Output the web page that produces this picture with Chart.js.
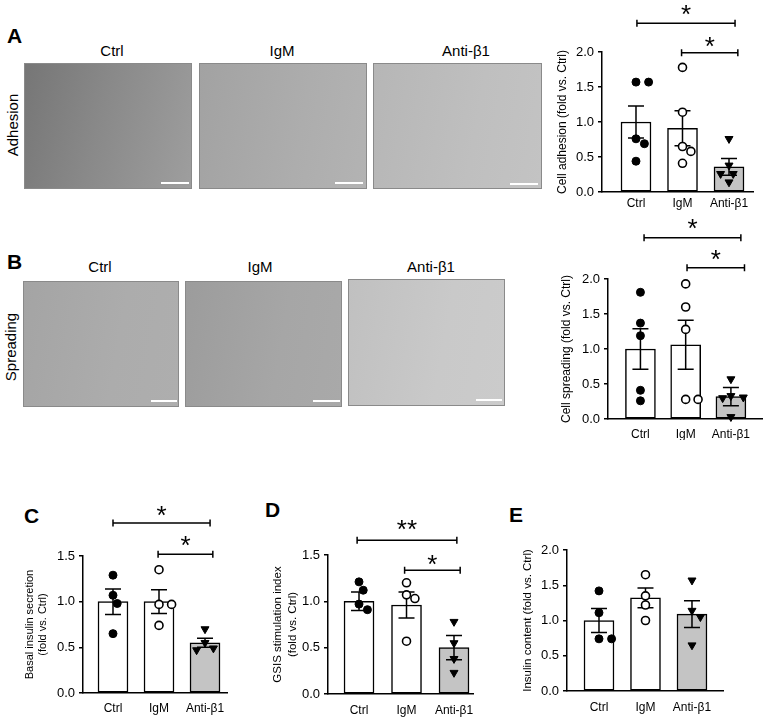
<!DOCTYPE html>
<html><head><meta charset="utf-8">
<script src="https://cdn.jsdelivr.net/npm/chart.js@4.4.1/dist/chart.umd.min.js"></script>
<style>
html,body{margin:0;padding:0;background:#fff;}
body{width:768px;height:719px;position:relative;overflow:hidden;font-family:"Liberation Sans",Arial,sans-serif;color:#000;}
.letter{position:absolute;font-weight:bold;font-size:21px;line-height:1;}
.ttl{position:absolute;font-size:15px;transform:translate(-50%,-50%);white-space:nowrap;line-height:1;}
.img{position:absolute;box-sizing:border-box;border:1px solid #8a8a8a;}
.sbar{position:absolute;height:2px;background:#fff;}
.rowlab{position:absolute;font-size:15px;transform:translate(-50%,-50%) rotate(-90deg);white-space:nowrap;line-height:1;}
canvas{position:absolute;}
</style>
</head>
<body>
<div class="letter" style="left:7px;top:25px;">A</div>
<div class="letter" style="left:7px;top:251px;">B</div>
<div class="letter" style="left:24px;top:505px;">C</div>
<div class="letter" style="left:265px;top:499px;">D</div>
<div class="letter" style="left:509px;top:504px;">E</div>

<div class="rowlab" style="left:12px;top:125px;">Adhesion</div>
<div class="rowlab" style="left:10px;top:347px;">Spreading</div>

<div class="ttl" style="left:112px;top:50px;">Ctrl</div>
<div class="ttl" style="left:282px;top:50px;">IgM</div>
<div class="ttl" style="left:466px;top:50px;">Anti-β1</div>
<div class="ttl" style="left:100px;top:266px;">Ctrl</div>
<div class="ttl" style="left:260px;top:266px;">IgM</div>
<div class="ttl" style="left:431px;top:266px;">Anti-β1</div>

<div class="img" style="left:24px;top:63px;width:168px;height:126px;background:linear-gradient(105deg,#767676 0%,#898989 45%,#9e9e9e 100%);"></div>
<div class="img" style="left:199px;top:63px;width:168px;height:126px;background:linear-gradient(100deg,#a2a2a2 0%,#adadad 60%,#b3b3b3 100%);"></div>
<div class="img" style="left:373px;top:63px;width:169px;height:126px;background:linear-gradient(100deg,#b6b6b6 0%,#bfbfbf 60%,#c3c3c3 100%);"></div>
<div class="img" style="left:23px;top:281px;width:156px;height:126px;background:linear-gradient(100deg,#a4a4a4 0%,#acacac 60%,#aeaeae 100%);"></div>
<div class="img" style="left:185px;top:281px;width:157px;height:126px;background:linear-gradient(100deg,#9c9c9c 0%,#a6a6a6 60%,#a9a9a9 100%);"></div>
<div class="img" style="left:348px;top:279px;width:157px;height:127px;background:linear-gradient(100deg,#c0c0c0 0%,#c9c9c9 60%,#cbcbcb 100%);"></div>

<div class="sbar" style="left:161px;top:182px;width:28px;"></div>
<div class="sbar" style="left:335px;top:182px;width:28px;"></div>
<div class="sbar" style="left:510px;top:183px;width:28px;"></div>
<div class="sbar" style="left:151px;top:400px;width:26px;"></div>
<div class="sbar" style="left:313px;top:400px;width:27px;"></div>
<div class="sbar" style="left:476px;top:399px;width:26px;"></div>

<canvas id="cA" width="220" height="215" style="left:548px;top:0px;"></canvas>
<canvas id="cB" width="216" height="225" style="left:552px;top:215px;"></canvas>
<canvas id="cC" width="230" height="229" style="left:20px;top:490px;"></canvas>
<canvas id="cD" width="235" height="229" style="left:265px;top:490px;"></canvas>
<canvas id="cE" width="253" height="229" style="left:515px;top:490px;"></canvas>

<script>
// ---------- data ----------
const categories = ['Ctrl', 'IgM', 'Anti-β1'];
const yTicks20 = [0, 0.5, 1.0, 1.5, 2.0];
const yTicks15 = [0, 0.5, 1.0, 1.5];

// A: cell adhesion
const adhMean = [1.00, 0.91, 0.36];
const adhSem  = [0.23, 0.25, 0.12];
const adhCtrl = [1.57, 1.57, 0.76, 0.69, 0.44];
const adhIgM  = [1.78, 1.14, 0.65, 0.58, 0.41];
const adhAnti = [0.76, 0.38, 0.26, 0.26, 0.14];

// B: cell spreading
const sprMean = [1.00, 1.06, 0.32];
const sprSem  = [0.29, 0.35, 0.13];
const sprCtrl = [1.81, 1.37, 1.19, 0.41, 0.26];
const sprIgM  = [1.93, 1.60, 1.28, 0.28, 0.28];
const sprAnti = [0.57, 0.33, 0.31, 0.30, 0.03];

// C: basal insulin secretion
const basMean = [1.00, 1.00, 0.55];
const basSem  = [0.14, 0.13, 0.05];
const basCtrl = [1.29, 1.07, 0.98, 0.65];
const basIgM  = [1.35, 0.97, 0.97, 0.74];
const basAnti = [0.70, 0.55, 0.49, 0.47];

// D: GSIS stimulation index
const gsisMean = [1.00, 0.96, 0.50];
const gsisSem  = [0.10, 0.14, 0.13];
const gsisCtrl = [1.21, 1.12, 0.97, 0.91];
const gsisIgM  = [1.20, 1.07, 1.03, 0.57];
const gsisAnti = [0.78, 0.55, 0.38, 0.23];

// E: insulin content
const insMean = [1.00, 1.32, 1.09];
const insSem  = [0.17, 0.14, 0.19];
const insCtrl = [1.42, 1.11, 0.74, 0.74];
const insIgM  = [1.65, 1.35, 1.22, 1.00];
const insAnti = [1.57, 1.14, 1.05, 0.65];

// significance brackets (annotation placement in data units)
const sigA = [{x1:1.02, x2:3.13, y:2.41, ly:2.62, label:'*'}, {x1:1.98, x2:3.19, y:1.99, ly:2.17, label:'*'}];
const sigB = [{x1:1.08, x2:3.22, y:2.59, ly:2.81, label:'*'}, {x1:2.03, x2:3.30, y:2.16, ly:2.37, label:'*'}];
const sigC = [{x1:1.00, x2:3.11, y:1.86, ly:2.01, label:'*'}, {x1:1.98, x2:3.17, y:1.52, ly:1.68, label:'*'}];
const sigD = [{x1:0.96, x2:3.06, y:1.66, ly:1.84, label:'**'}, {x1:1.96, x2:3.13, y:1.335, ly:1.47, label:'*'}];
const sigE = [];

// ---------- layout ----------
const layouts = {
  A: {cl:548, ct:0,   cw:220, ch:215, axisX:602, top:52,  bottom:192, right:753, xmin:0.269, xmax:3.516, ymax:2.0, tp:7.0, fs:12,   lh:1.2,  xpad:4},
  B: {cl:552, ct:215, cw:216, ch:225, axisX:608, top:279, bottom:419, right:765, xmin:0.283, xmax:3.696, ymax:2.0, tp:7.0, fs:12,   lh:1.2,  xpad:8},
  C: {cl:20,  ct:490, cw:230, ch:229, axisX:83,  top:556, bottom:693, right:227, xmin:0.348, xmax:3.478, ymax:1.5, tp:3.4, fs:11,   lh:1.2,  xpad:8},
  D: {cl:265, ct:490, cw:235, ch:229, axisX:328, top:555, bottom:694, right:473, xmin:0.347, xmax:3.400, ymax:1.5, tp:5.2, fs:11.5, lh:1.3,  xpad:9},
  E: {cl:515, ct:490, cw:253, ch:229, axisX:567, top:550, bottom:691, right:723, xmin:0.312, xmax:3.667, ymax:2.0, tp:6.2, fs:11.5, lh:1.2,  xpad:9}
};

const FONT = '"Liberation Sans", Arial, sans-serif';
Chart.defaults.font.family = FONT;
Chart.defaults.color = '#000';

// simple beeswarm spread (pixel-based collision avoidance)
function swarm(vals, center, L) {
  const ppx = (L.right - L.axisX) / (L.xmax - L.xmin);
  const ppy = (L.bottom - L.top) / L.ymax;
  const r = 4.3, step = 4.2;
  const placed = [];
  const out = new Array(vals.length);
  const order = vals.map((v, i) => i).sort((a, b) => vals[b] - vals[a]);
  for (const i of order) {
    const py = vals[i] * ppy;
    let chosen = 0;
    for (let k = 0; k < 40; k++) {
      const cand = (k % 2 ? 1 : -1) * Math.ceil(k / 2) * step;
      if (placed.every(q => (cand - q.x) ** 2 + (py - q.y) ** 2 >= (2 * r) ** 2)) { chosen = cand; break; }
    }
    placed.push({x: chosen, y: py});
    out[i] = {x: center + chosen / ppx, y: vals[i]};
  }
  return out;
}

function decor(means, sems, brackets) {
  return {
    id: 'decor',
    afterDatasetDraw(chart, args) {
      if (args.index !== 0) return;
      const ctx = chart.ctx, xs = chart.scales.x, ys = chart.scales.y;
      ctx.save();
      ctx.strokeStyle = '#000'; ctx.lineWidth = 1.5;
      means.forEach((m, i) => {
        const x = xs.getPixelForValue(i + 1);
        const yT = ys.getPixelForValue(m + sems[i]);
        const yB = ys.getPixelForValue(Math.max(0, m - sems[i]));
        ctx.beginPath();
        ctx.moveTo(x, yT); ctx.lineTo(x, yB);
        ctx.moveTo(x - 8, yT); ctx.lineTo(x + 8, yT);
        ctx.moveTo(x - 8, yB); ctx.lineTo(x + 8, yB);
        ctx.stroke();
      });
      ctx.restore();
    },
    afterDraw(chart) {
      const ctx = chart.ctx, xs = chart.scales.x, ys = chart.scales.y;
      ctx.save();
      ctx.strokeStyle = '#000'; ctx.fillStyle = '#000'; ctx.lineWidth = 1.5;
      brackets.forEach(b => {
        const x1 = xs.getPixelForValue(b.x1), x2 = xs.getPixelForValue(b.x2), y = ys.getPixelForValue(b.y);
        ctx.beginPath();
        ctx.moveTo(x1, y); ctx.lineTo(x2, y);
        ctx.moveTo(x1, y - 3.5); ctx.lineTo(x1, y + 3.5);
        ctx.moveTo(x2, y - 3.5); ctx.lineTo(x2, y + 3.5);
        ctx.stroke();
        const fs = 26;
        ctx.font = fs + 'px ' + FONT;
        ctx.textAlign = 'center'; ctx.textBaseline = 'alphabetic';
        ctx.fillText(b.label, (x1 + x2) / 2, ys.getPixelForValue(b.ly) + 0.57 * fs);
      });
      ctx.restore();
    }
  };
}

function makeChart(id, L, yTicks, yTitle, means, sems, ctrl, igm, anti, brackets) {
  const cfg = {
    type: 'bar',
    data: {
      datasets: [
        {
          type: 'bar',
          data: means.map((m, i) => ({x: i + 1, y: m})),
          backgroundColor: ['#ffffff', '#ffffff', '#c4c4c4'],
          borderColor: '#000', borderWidth: 1.5, borderSkipped: false,
          barThickness: 30, order: 2
        },
        {
          type: 'scatter', data: swarm(ctrl, 1, L), order: 1, clip: false,
          pointStyle: 'circle', pointRadius: 4, backgroundColor: '#000', borderColor: '#000', borderWidth: 1
        },
        {
          type: 'scatter', data: swarm(igm, 2, L), order: 1, clip: false,
          pointStyle: 'circle', pointRadius: 4, backgroundColor: '#fff', borderColor: '#000', borderWidth: 1.6
        },
        {
          type: 'scatter', data: swarm(anti, 3, L), order: 1, clip: false,
          pointStyle: 'triangle', rotation: 180, pointRadius: 4.6, backgroundColor: '#000', borderColor: '#000', borderWidth: 1
        }
      ]
    },
    options: {
      responsive: false, animation: false, events: [],
      layout: {padding: {left: 0, top: L.top - L.ct, right: L.cl + L.cw - L.right, bottom: 0}},
      plugins: {legend: {display: false}, tooltip: {enabled: false}},
      scales: {
        x: {
          type: 'linear', min: L.xmin, max: L.xmax, offset: false, bounds: 'data',
          grid: {display: false, drawTicks: false, offset: false},
          border: {display: true, color: '#000', width: 1.5},
          afterBuildTicks: s => { s.ticks = categories.map((c, i) => ({value: i + 1})); },
          ticks: {callback: v => categories[Math.round(v) - 1], font: {size: 12}, padding: L.xpad, maxRotation: 0, autoSkip: false},
          afterFit: s => { s.height = L.ct + L.ch - L.bottom; }
        },
        y: {
          type: 'linear', min: 0, max: L.ymax,
          grid: {display: true, drawOnChartArea: false, drawTicks: true, tickLength: 4, color: '#000', lineWidth: 1.5},
          border: {display: true, color: '#000', width: 1.5},
          afterBuildTicks: s => { s.ticks = yTicks.map(v => ({value: v})); },
          ticks: {callback: v => Number(v).toFixed(1), font: {size: 13}, padding: 4},
          title: {display: true, text: yTitle, font: {size: L.fs, lineHeight: L.lh}, padding: {top: L.tp, bottom: 0}},
          afterFit: s => { s.width = L.axisX - L.cl; }
        }
      }
    },
    plugins: [decor(means, sems, brackets)]
  };
  return new Chart(document.getElementById(id), cfg);
}

makeChart('cA', layouts.A, yTicks20, 'Cell adhesion (fold vs. Ctrl)', adhMean, adhSem, adhCtrl, adhIgM, adhAnti, sigA);
makeChart('cB', layouts.B, yTicks20, 'Cell spreading (fold vs. Ctrl)', sprMean, sprSem, sprCtrl, sprIgM, sprAnti, sigB);
makeChart('cC', layouts.C, yTicks15, ['Basal insulin secretion', '(fold vs. Ctrl)'], basMean, basSem, basCtrl, basIgM, basAnti, sigC);
makeChart('cD', layouts.D, yTicks15, ['GSIS stimulation index', '(fold vs. Ctrl)'], gsisMean, gsisSem, gsisCtrl, gsisIgM, gsisAnti, sigD);
makeChart('cE', layouts.E, yTicks20, 'Insulin content (fold vs. Ctrl)', insMean, insSem, insCtrl, insIgM, insAnti, sigE);
</script>
</body></html>
